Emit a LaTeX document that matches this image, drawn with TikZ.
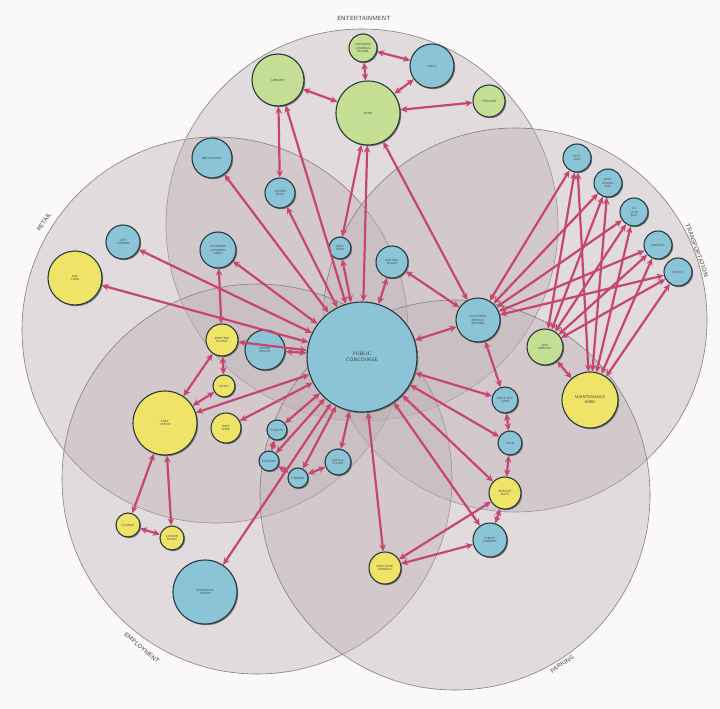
\documentclass[tikz,border=0pt]{standalone}
\usepackage{xcolor}
\usepackage{tikz}
\usetikzlibrary{arrows.meta, shadows}
\definecolor{petal}{RGB}{190,176,182}
\definecolor{nodeblue}{RGB}{140,196,215}
\definecolor{nodegreen}{RGB}{196,222,148}
\definecolor{nodeyellow}{RGB}{240,228,104}
\definecolor{linkred}{RGB}{198,70,112}
\definecolor{rimdark}{RGB}{40,58,60}
\definecolor{paper}{RGB}{250,249,247}
\tikzset{
  petalzone/.style={fill=petal, fill opacity=.4, draw=black!50, line width=.6pt},
  zonelabel/.style={font=\fontsize{6}{7}\selectfont\sffamily, text=black!75},
  room/.style={circle, draw=rimdark, line width=1.1pt, inner sep=0pt, align=center,
    font=\fontsize{3}{3.6}\selectfont\sffamily, text=black!75,
    drop shadow={shadow xshift=1.2pt, shadow yshift=-1.2pt, fill=black!60, opacity=.85}},
  blueroom/.style={room, fill=nodeblue},
  greenroom/.style={room, fill=nodegreen},
  yellowroom/.style={room, fill=nodeyellow},
  link/.style={draw=linkred, line width=2.2pt,
    {Stealth[length=7pt, width=6.5pt]}-{Stealth[length=7pt, width=6.5pt]}}
}

\begin{document}
\begin{tikzpicture}[x=1pt, y=-1pt]
\useasboundingbox (0,0) rectangle (720,709);
\fill[paper] (0,0) rectangle (720,709);

% the five zones
\draw[petalzone] (362,225) circle (196);
\draw[petalzone] (215,330) circle (193);
\draw[petalzone] (515,320) circle (192);
\draw[petalzone] (257,479) circle (195);
\draw[petalzone] (455,495) circle (195);

\node[zonelabel] at (364,18) {ENTERTAINMENT};
\node[zonelabel, rotate=56] at (44,222) {RETAIL};
\node[zonelabel, rotate=-70] at (697,250) {TRANSPORTATION};
\node[zonelabel, rotate=-40] at (142,648) {EMPLOYMENT};
\node[zonelabel, rotate=34] at (562,664) {PARKING};

% entertainment
\node[greenroom, minimum size=28pt] (rooms) at (363,48) {CHILDREN\\LEARNING\\ROOMS};
\node[blueroom, minimum size=44pt] (ymca) at (432,66) {YMCA};
\node[greenroom, minimum size=52pt] (library) at (278,80) {LIBRARY};
\node[greenroom, minimum size=64pt] (park) at (368,113) {PARK};
\node[greenroom, minimum size=32pt] (theater) at (489,101) {THEATER};

% retail
\node[blueroom, minimum size=40pt] (restaurant) at (212,158) {RESTAURANT};
\node[blueroom, minimum size=30pt] (coffee) at (280,193) {COFFEE\\SHOP};
\node[blueroom, minimum size=36pt] (catering) at (218,250) {EXTERIOR\\CATERING\\AREA};
\node[blueroom, minimum size=34pt] (gift) at (123,242) {GIFT\\CORNER};
\node[yellowroom, minimum size=54pt] (daycare) at (75,278) {DAY\\CARE};
\node[yellowroom, minimum size=32pt] (meeting) at (222,340) {MEETING\\ROOMS};
\node[blueroom, minimum size=40pt] (retail) at (265,350) {RETAIL\\SPACES};
\node[yellowroom, minimum size=22pt] (kiosk) at (224,386) {KIOSK};
\node[yellowroom, minimum size=64pt] (post) at (165,423) {POST\\OFFICE};
\node[yellowroom, minimum size=30pt] (bike) at (226,428) {BIKE\\SHOP};

% concourse and services
\node[blueroom, minimum size=110pt, font=\fontsize{5}{6}\selectfont\sffamily] (concourse) at (362,357) {PUBLIC\\CONCOURSE};
\node[blueroom, minimum size=22pt] (info) at (340,248) {INFO\\DESK};
\node[blueroom, minimum size=32pt] (waiting) at (392,262) {WAITING\\ROOM};
\node[blueroom, minimum size=20pt] (toilets) at (277,430) {TOILETS};
\node[blueroom, minimum size=20pt] (lockers) at (269,461) {LOCKERS};
\node[blueroom, minimum size=20pt] (phones) at (298,478) {PHONES};
\node[blueroom, minimum size=26pt] (lost) at (338,462) {LOST \&\\FOUND};

% transportation
\node[blueroom, minimum size=44pt] (customer) at (478,320) {CUSTOMER\\SERVICE\\WAITING};
\node[greenroom, minimum size=36pt] (bus) at (545,347) {BUS\\SERVICE};
\node[yellowroom, minimum size=56pt, font=\fontsize{4}{4.8}\selectfont\sffamily] (shed) at (590,400) {MAINTENANCE\\SHED};
\node[blueroom, minimum size=28pt] (citybus) at (577,158) {CITY\\BUS};
\node[blueroom, minimum size=28pt] (grey) at (608,183) {GREY-\\HOUND\\BUS};
\node[blueroom, minimum size=28pt] (laclub) at (634,212) {LA\\CLUB\\BUS};
\node[blueroom, minimum size=28pt] (amtrak) at (658,245) {AMTRAK};
\node[blueroom, minimum size=28pt] (depot) at (678,272) {DEPOT};
\node[blueroom, minimum size=26pt] (dropoff) at (505,400) {DROP-OFF\\CURB};
\node[blueroom, minimum size=24pt] (taxis) at (510,443) {TAXIS};

% parking and employment
\node[yellowroom, minimum size=32pt] (bays) at (505,493) {SERVICE\\BAYS};
\node[blueroom, minimum size=34pt] (public) at (490,540) {PUBLIC\\PARKING};
\node[yellowroom, minimum size=32pt] (staff) at (385,568) {EMPLOYEE\\PARKING};
\node[blueroom, minimum size=64pt] (tower) at (205,592) {OPERATION\\TOWER};
\node[yellowroom, minimum size=24pt] (lounge) at (128,525) {LOUNGE};
\node[yellowroom, minimum size=24pt] (lockroom) at (172,538) {LOCKER\\ROOM};

% connectors
\draw[link] (rooms) -- (park);
\draw[link] (rooms) -- (ymca);
\draw[link] (ymca) -- (park);
\draw[link] (park) -- (theater);
\draw[link] (library) -- (park);
\draw[link] (library) -- (coffee);
\draw[link] (library) -- (concourse);
\draw[link] (park) -- (info);
\draw[link] (park) -- (concourse);
\draw[link] (park) -- (customer);
\draw[link] (restaurant) -- (concourse);
\draw[link] (coffee) -- (concourse);
\draw[link] (info) -- (concourse);
\draw[link] (waiting) -- (concourse);
\draw[link] (waiting) -- (customer);
\draw[link] (catering) -- (concourse);
\draw[link] (catering) -- (meeting);
\draw[link] (gift) -- (concourse);
\draw[link] (daycare) -- (concourse);
\draw[link] (meeting) -- (concourse);
\draw[link] (meeting) -- (post);
\draw[link] (meeting) -- (kiosk);
\draw[link] (kiosk) -- (post);
\draw[link] (post) -- (concourse);
\draw[link] (bike) -- (concourse);
\draw[link] (retail) -- (concourse);
\draw[link] (post) -- (lounge);
\draw[link] (post) -- (lockroom);
\draw[link] (lounge) -- (lockroom);
\draw[link] (concourse) -- (tower);
\draw[link] (concourse) -- (toilets);
\draw[link] (concourse) -- (lockers);
\draw[link] (concourse) -- (phones);
\draw[link] (concourse) -- (lost);
\draw[link] (toilets) -- (lockers);
\draw[link] (lockers) -- (phones);
\draw[link] (phones) -- (lost);
\draw[link] (concourse) -- (staff);
\draw[link] (concourse) -- (public);
\draw[link] (concourse) -- (bays);
\draw[link] (concourse) -- (taxis);
\draw[link] (concourse) -- (dropoff);
\draw[link] (concourse) -- (customer);
\draw[link] (customer) -- (dropoff);
\draw[link] (dropoff) -- (taxis);
\draw[link] (taxis) -- (bays);
\draw[link] (bays) -- (public);
\draw[link] (bays) -- (staff);
\draw[link] (staff) -- (public);
\draw[link] (bus) -- (shed);
\foreach \t in {citybus, grey, laclub, amtrak, depot} {
  \draw[link] (customer) -- (\t);
  \draw[link] (bus) -- (\t);
  \draw[link] (shed) -- (\t);
}
\end{tikzpicture}
\end{document}
